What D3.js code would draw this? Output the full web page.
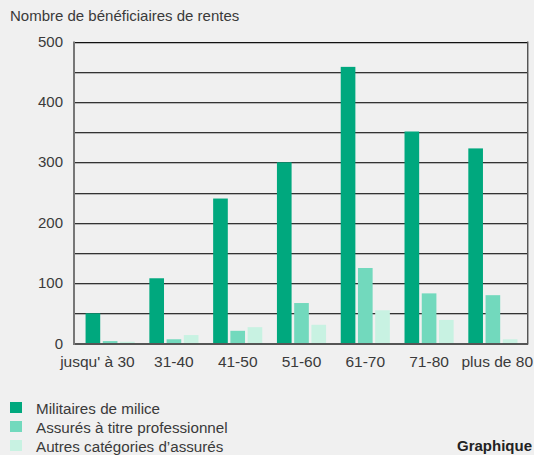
<!DOCTYPE html>
<html>
<head>
<meta charset="utf-8">
<script src="https://cdn.jsdelivr.net/npm/d3@7"></script>
<style>
  body { margin: 0; background: #f0f0f0; }
  svg { display: block; }
  text { font-family: "Liberation Sans", Arial, Helvetica, sans-serif; fill: #3a3a3a; }
</style>
</head>
<body>
<svg id="chart" width="534" height="455"></svg>
<script>
// categories (age classes)
const categories = ["jusqu' à 30", "31-40", "41-50", "51-60", "61-70", "71-80", "plus de 80"];
const seriesNames = ["Militaires de milice", "Assurés à titre professionnel", "Autres catégories d’assurés"];
const militaires = [50, 108, 240, 300, 458, 351, 323];
const professionnels = [4, 7, 21, 67, 125, 83, 80];
const autres = [3, 14, 27, 31, 55, 39, 7];
const yTicks = [0, 100, 200, 300, 400, 500];
const yGrid = [50, 100, 150, 200, 250, 300, 350, 400, 450, 500];
const colors = ["#00a87e", "#72d9bd", "#c8f2e2"];

const series = [militaires, professionnels, autres];

const svg = d3.select("#chart");
const margin = { top: 41.5, right: 7, bottom: 111.5, left: 74 };
const width = 534, height = 455;

const y = d3.scaleLinear()
    .domain([0, 500])
    .range([height - margin.bottom, margin.top]);

const x0 = d3.scaleBand()
    .domain(categories)
    .range([76, width - margin.right])
    .paddingInner(0.23)
    .paddingOuter(0.15);

const x1 = d3.scaleBand()
    .domain(d3.range(series.length))
    .range([0, x0.bandwidth()])
    .paddingInner(0.15);

// title
svg.append("text")
    .attr("x", 10)
    .attr("y", 21)
    .style("font-size", "15px")
    .text("Nombre de bénéficiaires de rentes");

// gridlines (dark line with a light shadow)
const grid = svg.append("g");
grid.selectAll(".shadow")
    .data(yGrid)
    .enter()
    .append("line")
    .attr("x1", margin.left)
    .attr("x2", width - margin.right)
    .attr("y1", d => Math.round(y(d)) + 1.5)
    .attr("y2", d => Math.round(y(d)) + 1.5)
    .attr("stroke", "#b5b5b5")
    .attr("stroke-width", 1);
grid.selectAll(".line")
    .data(yGrid)
    .enter()
    .append("line")
    .attr("x1", margin.left)
    .attr("x2", width - margin.right)
    .attr("y1", d => Math.round(y(d)) + 0.5)
    .attr("y2", d => Math.round(y(d)) + 0.5)
    .attr("stroke", d => d === 500 ? "#111" : "#333")
    .attr("stroke-width", 1);

// right border
svg.append("line")
    .attr("x1", width - margin.right + 1.5)
    .attr("x2", width - margin.right + 1.5)
    .attr("y1", y(500))
    .attr("y2", y(0) + 1)
    .attr("stroke", "#aaa")
    .attr("stroke-width", 1);
svg.append("line")
    .attr("x1", width - margin.right + 0.5)
    .attr("x2", width - margin.right + 0.5)
    .attr("y1", y(500))
    .attr("y2", y(0))
    .attr("stroke", "#555")
    .attr("stroke-width", 1);

// bars
const groups = svg.append("g")
    .selectAll("g")
    .data(categories)
    .enter()
    .append("g")
    .attr("transform", d => `translate(${x0(d)},0)`);

groups.selectAll("rect")
    .data((d, i) => series.map((s, k) => ({ k: k, v: s[i] })))
    .enter()
    .append("rect")
    .attr("x", d => x1(d.k))
    .attr("y", d => y(d.v))
    .attr("width", x1.bandwidth())
    .attr("height", d => y(0) - y(d.v))
    .attr("fill", d => colors[d.k]);

// axes
svg.append("line")
    .attr("x1", margin.left)
    .attr("x2", width - margin.right + 1)
    .attr("y1", y(0) + 0.5)
    .attr("y2", y(0) + 0.5)
    .attr("stroke", "#555")
    .attr("stroke-width", 2);
svg.append("line")
    .attr("x1", margin.left)
    .attr("x2", margin.left)
    .attr("y1", y(500))
    .attr("y2", y(0) + 1.5)
    .attr("stroke", "#777")
    .attr("stroke-width", 2);

// y tick labels
svg.selectAll(".ylab")
    .data(yTicks)
    .enter()
    .append("text")
    .attr("x", 63)
    .attr("y", d => y(d) + 5)
    .attr("text-anchor", "end")
    .style("font-size", "15px")
    .text(d => d);

// x labels (first one sits flush with its group, last one with the page edge)
const last = categories.length - 1;
svg.selectAll(".xlab")
    .data(categories)
    .enter()
    .append("text")
    .attr("x", (d, i) => i === 0 ? x0(d) + x0.bandwidth() : i === last ? width - 1 : x0(d) + x0.bandwidth() / 2)
    .attr("y", 367)
    .attr("text-anchor", (d, i) => i === 0 || i === last ? "end" : "middle")
    .style("font-size", "15.5px")
    .text(d => d);

// legend
const legend = svg.append("g")
    .selectAll("g")
    .data(seriesNames)
    .enter()
    .append("g")
    .attr("transform", (d, i) => `translate(10,${402 + i * 19})`);
legend.append("rect")
    .attr("width", 12)
    .attr("height", 11)
    .attr("fill", (d, i) => colors[i]);
legend.append("text")
    .attr("x", 26)
    .attr("y", 11.5)
    .style("font-size", "15.2px")
    .text(d => d);

svg.append("text")
    .attr("x", 532)
    .attr("y", 451)
    .attr("text-anchor", "end")
    .style("font-size", "15px")
    .style("font-weight", "bold")
    .style("fill", "#222")
    .text("Graphique");
</script>
</body>
</html>
